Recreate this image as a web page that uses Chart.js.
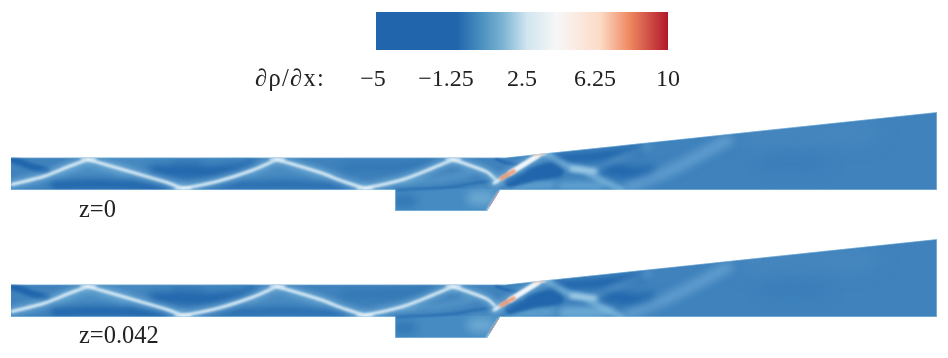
<!DOCTYPE html>
<html>
<head>
<meta charset="utf-8">
<script src="https://cdn.jsdelivr.net/npm/chart.js@4"></script>
<style>
  html, body { margin: 0; background: #fff; }
  body { position: relative; width: 948px; height: 358px; overflow: hidden; }
  canvas { position: absolute; left: 0; filter: blur(.45px); }
  .label { position: absolute; font: 24.5px "Liberation Serif", serif; color: #222; white-space: nowrap; line-height: 28px; filter: blur(.3px); }
</style>
</head>
<body>
<canvas id="bar" width="948" height="100" style="top:0"></canvas>
<canvas id="panel0" width="948" height="120" style="top:100px"></canvas>
<canvas id="panel1" width="948" height="120" style="top:227px"></canvas>
<div class="label" style="left:255px;top:64px;letter-spacing:1.3px">∂ρ/∂x:</div>
<div class="label" style="left:79px;top:195px">z=0</div>
<div class="label" style="left:79px;top:321px">z=0.042</div>
<script>
// colour bar
const barTicks = [-5, -1.25, 2.5, 6.25, 10]
const barTickLabels = ['−5 ', '−1.25 ', '2.5', '6.25', '10']
const barStops = [-5, -0.84, 0.4, 1.5, 2.75, 4.3, 6.5, 8, 10]
const barColors = ['#2166ac', '#2166ac', '#4a90c0', '#7ab3d3', '#d1e5f0', '#f7f7f7', '#fddbc7', '#ef8a62', '#b2182b']

// geometry, x along the duct and h above the lower wall
const outline = [[11, 0], [395, 0], [395, -21], [487, -21], [500, 0], [937, 0], [937, 78], [505, 32.5], [11, 32.5]]

// shock lines
const shock1 = [[12, 5.5], [45, 14], [70, 24], [88, 30.5]]
const shock2 = [[88, 30.5], [133, 17.5], [167, 7.5], [183, 1.5]]
const shock3 = [[183, 1.5], [217, 8.5], [253, 20], [277, 30.5]]
const shock4 = [[277, 30.5], [320, 17.5], [345, 8], [365, 1.5]]
const shock5 = [[365, 1.5], [403, 10.5], [433, 22], [453, 30.5]]
const shock6 = [[453, 30.5], [487, 18], [497, 9]]
const rampShock = [[494, 7], [520, 23], [540, 35], [546, 37]]
const rampCore = [[510, 17], [522, 24.5], [538, 34.5]]
const rampHot = [[501, 11.5], [514, 19]]
const rampTip = [[534, 35.5], [544, 36.5]]
const reflected = [[547, 36], [570, 23], [583, 20], [603, 9], [622, 0]]
const reflectedBlob = [[572, 21], [595, 19]]
const softRise = [[590, 17], [615, 30], [650, 44]]
const softRise2 = [[628, 2], [671, 20], [728, 50]]

// where the shocks meet the walls
const wallTop1 = [[82, 31], [95, 31]]
const wallTop2 = [[271, 31], [284, 31]]
const wallTop3 = [[447, 31], [460, 31]]
const wallLow1 = [[176, 1.5], [190, 1.5]]
const wallLow2 = [[358, 1.5], [372, 1.5]]

// dark and light regions of the field
const darkTopLeft = [[12, 31], [30, 24], [47, 19]]
const darkLow1 = [[55, 5], [110, 6], [165, 3]]
const darkHigh1 = [[155, 20], [205, 19], [250, 24]]
const darkLow2 = [[205, 4], [275, 6], [345, 4]]
const darkHigh2 = [[345, 22], [395, 23], [430, 27]]
const lightMid1 = [[60, 17], [90, 22], [125, 17]]
const lightTop1 = [[105, 29], [135, 29], [170, 30]]
const lightTop2 = [[205, 29], [245, 30]]
const lightMid2 = [[250, 15], [285, 19], [320, 14]]
const lightUnder = [[405, 8], [440, 11], [470, 17]]
const shearLine = [[395, 0], [440, 2], [470, 6], [495, 10]]
const darkRamp = [[510, 8], [535, 15], [558, 18], [552, 22], [530, 17]]
const darkLip = [[496, 31], [507, 27], [518, 25]]
const lightFloor1 = [[510, 3], [552, 5]]
const lightFloor2 = [[562, 4], [600, 4]]
const darkTop3 = [[555, 31], [600, 34], [640, 40]]
const darkMid3 = [[605, 22], [640, 16], [650, 18]]
const darkRight = [[770, 30], [820, 30]]
const lightRight = [[750, 52], [800, 52], [870, 58]]
const lightFloorZ = [[565, 5], [610, 6]]

// cavity
const cavityBody = [[370, -10.5], [510, -10.5]]
const cavityEnd = [[474, -8], [488, -8]]
const cavityLeft = [[398, -11], [410, -11]]
const cavityEdge = [[487, -21], [499, -2]]
const cavityHot = [[490, -16], [499, -2]]

const layers = [
  { pts: lightRight, color: 'rgba(85,145,198,.5)', width: 16, blur: 10 },
  { pts: darkRight, color: 'rgba(50,118,180,.6)', width: 12, blur: 9 },
  { pts: darkLow1, color: '#2166ac', width: 9, blur: 3 },
  { pts: darkHigh1, color: '#2166ac', width: 13, blur: 4 },
  { pts: darkLow2, color: 'rgba(33,102,172,.7)', width: 8, blur: 3 },
  { pts: darkHigh2, color: 'rgba(33,102,172,.4)', width: 9, blur: 4 },
  { pts: lightMid1, color: 'rgba(90,158,205,.7)', width: 9, blur: 4 },
  { pts: lightTop1, color: 'rgba(90,158,205,.5)', width: 6, blur: 4 },
  { pts: lightTop2, color: 'rgba(90,158,205,.5)', width: 6, blur: 4 },
  { pts: lightMid2, color: 'rgba(90,158,205,.5)', width: 9, blur: 4 },
  { pts: lightUnder, color: 'rgba(95,160,205,.6)', width: 8, blur: 3 },
  { pts: darkTopLeft, color: '#2166ac', width: 7, blur: 1.5 },
  { pts: lightFloor1, color: 'rgba(105,170,212,.8)', width: 8, blur: 3 },
  { pts: lightFloor2, color: 'rgba(105,170,212,.8)', width: 9, blur: 3 },
  { pts: darkTop3, color: '#2166ac', width: 9, blur: 3 },
  { pts: darkMid3, color: '#2166ac', width: 13, blur: 4 },
  { pts: softRise2, color: 'rgba(105,165,212,.85)', width: 10, blur: 4.5 },
  { pts: softRise, color: 'rgba(110,170,212,.55)', width: 5, blur: 3 },
  { pts: cavityBody, color: '#468cc2', width: 23, blur: 0 },
  { pts: cavityEnd, color: 'rgba(120,178,215,.8)', width: 14, blur: 5 },
  { pts: cavityLeft, color: 'rgba(33,102,172,.5)', width: 14, blur: 4 },
  { pts: shearLine, color: 'rgba(33,102,172,.8)', width: 2, blur: 1 },
  { pts: darkRamp, color: '#2166ac', width: 11, blur: 1.5 },
  { pts: darkLip, color: '#2166ac', width: 2.5, blur: 0.8 },
  { pts: cavityEdge, color: 'rgba(190,220,238,.7)', width: 2.5, blur: 1 }
]
for (const s of [shock1, shock2, shock3, shock4, shock5, shock6, rampShock]) {
  layers.push({ pts: s, color: 'rgba(140,195,228,.6)', width: 8, blur: 3 })
  layers.push({ pts: s, color: 'rgba(222,238,247,.95)', width: 3, blur: 1 })
}
for (const s of [wallTop1, wallTop2, wallTop3, wallLow1, wallLow2]) {
  layers.push({ pts: s, color: 'rgba(235,244,250,.85)', width: 3, blur: 1.5 })
}
layers.push({ pts: rampCore, color: '#f2f6f9', width: 4.5, blur: 1 })
layers.push({ pts: reflected, color: 'rgba(135,192,226,.8)', width: 5.5, blur: 2.5 })
layers.push({ pts: reflectedBlob, color: 'rgba(175,213,236,.85)', width: 5, blur: 2 })
layers.push({ pts: rampHot, color: '#f0936c', width: 3.5, blur: 0.9 })
layers.push({ pts: rampTip, color: '#f9c4a8', width: 2.5, blur: 0.8 })
layers.push({ pts: cavityHot, color: '#d6604d', width: 1.8, blur: 0.4 })
layers.push({ pts: outline, color: 'rgba(160,205,233,.65)', width: 1.6, blur: 0.5, straight: true })

const panelExtras = {
  panel0: [],
  panel1: [{ pts: lightFloorZ, color: 'rgba(135,188,222,.7)', width: 7, blur: 3 }]
}

const toXY = pts => pts.map(p => ({ x: p[0], y: p[1] }))

// clip everything to the duct and soften each stroke
const fieldPlugin = {
  id: 'field',
  beforeDatasetsDraw(chart) {
    const { ctx, scales } = chart
    ctx.save()
    ctx.beginPath()
    outline.forEach((p, i) => {
      const px = scales.x.getPixelForValue(p[0])
      const py = scales.y.getPixelForValue(p[1])
      if (i === 0) ctx.moveTo(px, py)
      else ctx.lineTo(px, py)
    })
    ctx.closePath()
    ctx.clip()
  },
  afterDatasetsDraw(chart) {
    chart.ctx.restore()
  },
  beforeDatasetDraw(chart, args) {
    const blur = chart.data.datasets[args.index].blur
    chart.ctx.filter = blur ? `blur(${blur}px)` : 'none'
  },
  afterDatasetDraw(chart) {
    chart.ctx.filter = 'none'
  }
}

function drawPanel(id) {
  const all = [...panelExtras[id], ...layers]
  const strokes = all.map((l, i) => ({
    data: toXY(l.pts),
    borderColor: l.color,
    borderWidth: l.width,
    blur: l.blur,
    fill: false,
    tension: l.straight ? 0 : 0.3,
    order: all.length - i
  }))
  const base = {
    data: toXY(outline),
    borderColor: 'rgba(0,0,0,0)',
    borderWidth: 0,
    backgroundColor: '#3f82bc',
    fill: 'shape',
    tension: 0,
    order: all.length + 1
  }
  new Chart(document.getElementById(id), {
    type: 'line',
    data: { datasets: [base, ...strokes] },
    options: {
      responsive: false,
      animation: false,
      layout: { padding: 0 },
      elements: { point: { radius: 0 }, line: { borderCapStyle: 'round', borderJoinStyle: 'round' } },
      plugins: { legend: { display: false }, tooltip: { enabled: false } },
      scales: {
        x: { type: 'linear', min: 0, max: 948, display: false },
        y: { type: 'linear', min: -30, max: 90, display: false }
      }
    },
    plugins: [fieldPlugin]
  })
}

new Chart(document.getElementById('bar'), {
  type: 'bar',
  data: {
    labels: [''],
    datasets: [{
      data: [[barTicks[0], barTicks[barTicks.length - 1]]],
      barPercentage: 1,
      categoryPercentage: 1,
      backgroundColor(c) {
        const x = c.chart.scales.x
        if (!x || !Number.isFinite(x.left) || x.right <= x.left) return barColors[0]
        const g = c.chart.ctx.createLinearGradient(x.left, 0, x.right, 0)
        barStops.forEach((v, i) => g.addColorStop((v - x.min) / (x.max - x.min), barColors[i]))
        return g
      }
    }]
  },
  options: {
    indexAxis: 'y',
    responsive: false,
    animation: false,
    layout: { padding: { left: 376, right: 280, top: 12, bottom: 0 } },
    plugins: { legend: { display: false }, tooltip: { enabled: false } },
    scales: {
      y: { display: false },
      x: {
        type: 'linear',
        min: -5,
        max: 10,
        grid: { display: false, drawTicks: false },
        border: { display: false },
        afterBuildTicks(s) { s.ticks = barTicks.map(v => ({ value: v })) },
        afterFit(s) { s.height = 50 },
        ticks: {
          autoSkip: false,
          maxRotation: 0,
          padding: 15,
          color: '#222',
          font: { family: '"Liberation Serif", serif', size: 24 },
          callback: (v, i) => barTickLabels[i]
        }
      }
    }
  }
})

drawPanel('panel0')
drawPanel('panel1')
</script>
</body>
</html>
